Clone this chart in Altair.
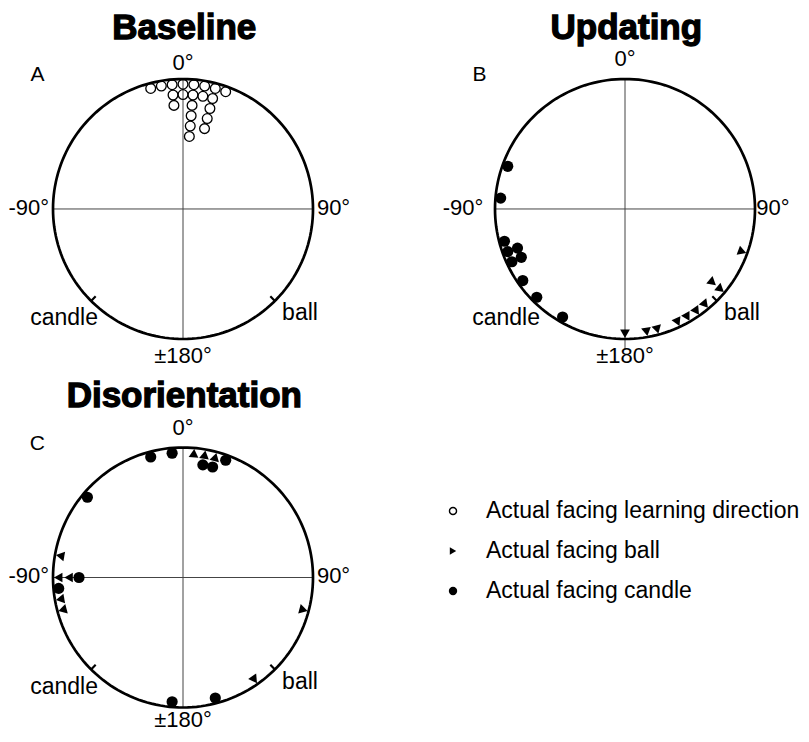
import altair as alt
import pandas as pd

# ---------------- data (angles in degrees, clockwise from 0° = top) ----------------
baseline_learning = [-15, -10, -5, -5, -5, 0, 0, 5, 5, 5, 5, 5, 5, 10, 10, 15, 15, 15, 15, 15, 20]
updating_candle = [-70, -85, -105, -110, -110, -115, -115, -125, -135, -150]
updating_ball = [110, 130, 130, 140, 145, 150, 155, 165, 170, 180]
disorient_candle = [-15, -5, 10, 15, 20, -50, -90, -95, -175, 165]
disorient_ball = [5, 10, 15, -80, -90, -90, -100, -105, 105, 145]

panel_titles = ["Baseline", "Updating", "Disorientation"]
panel_letters = ["A", "B", "C"]
direction_labels = ["0°", "90°", "±180°", "-90°"]
landmark_labels = ["candle", "ball"]
landmark_angles = [-135, 135]
legend_labels = ["Actual facing learning direction", "Actual facing ball", "Actual facing candle"]
legend_kinds = ["learning", "ball", "candle"]

rows = []
for pnl, kind, angs in [("A", "learning", baseline_learning),
                        ("B", "candle", updating_candle), ("B", "ball", updating_ball),
                        ("C", "candle", disorient_candle), ("C", "ball", disorient_ball)]:
    for a in angs:
        rows.append({"panel": pnl, "kind": kind, "angle": a, "korder": 1 if kind == "candle" else 0})
points = pd.DataFrame(rows)
landmarks = pd.DataFrame({"angle": landmark_angles, "label": landmark_labels})

FONT = "Liberation Sans"
U = 130
W = 350
XD = [-W / 2 / U, W / 2 / U]


def panel(p, title, letter, h, ytop, vbottom=-1.0, zero_y=1.14, bottom_y=-1.13,
          left_x=-1.03, right_x=1.03):
    ydom = [ytop - h / U, ytop]
    xs = alt.Scale(domain=XD, nice=False, zero=False)
    ys = alt.Scale(domain=ydom, nice=False, zero=False)

    def XF(f):
        return alt.X(f, scale=xs, axis=None)

    def YF(f):
        return alt.Y(f, scale=ys, axis=None)

    def XDt(v):
        return alt.XDatum(v, scale=xs, axis=None)

    def YDt(v):
        return alt.YDatum(v, scale=ys, axis=None)

    one = alt.Data(values=[{"k": 1}])

    circle = alt.Chart(alt.sequence(0, 362, 2, as_="t")).transform_calculate(
        cx="sin(datum.t*PI/180)"
    ).transform_calculate(
        cy="cos(datum.t*PI/180)"
    ).mark_line(color="black", strokeWidth=2.7).encode(
        x=XF("cx:Q"), y=YF("cy:Q"), order="t:Q")

    hline = alt.Chart(one).mark_rule(color="#444", strokeWidth=1).encode(
        x=XDt(-1), x2=alt.X2Datum(1), y=YDt(0))
    vline = alt.Chart(one).mark_rule(color="#444", strokeWidth=1).encode(
        x=XDt(0), y=YDt(1), y2=alt.Y2Datum(vbottom))

    ticks = alt.Chart(landmarks).transform_calculate(
        x1="0.95*sin(datum.angle*PI/180)", y1="0.95*cos(datum.angle*PI/180)",
        x2="sin(datum.angle*PI/180)", y2="cos(datum.angle*PI/180)"
    ).mark_rule(color="black", strokeWidth=2.2).encode(
        x=XF("x1:Q"), y=YF("y1:Q"), x2="x2:Q", y2="y2:Q")

    base = alt.Chart(points).transform_filter(alt.datum.panel == p).transform_window(
        rank="row_number()", groupby=["angle"], sort=[alt.SortField("korder")]
    ).transform_calculate(
        r="0.96 - 0.08*(datum.rank - 1)"
    ).transform_calculate(
        px="datum.r*sin(datum.angle*PI/180)"
    ).transform_calculate(
        py="datum.r*cos(datum.angle*PI/180)"
    ).transform_calculate(
        rot="(datum.angle + 360) % 360"
    )
    learn = base.transform_filter(alt.datum.kind == "learning").mark_point(
        shape="circle", filled=False, size=95, color="black", strokeWidth=1.3, opacity=1
    ).encode(x=XF("px:Q"), y=YF("py:Q"))
    ball = base.transform_filter(alt.datum.kind == "ball").mark_point(
        shape="triangle-up", filled=True, size=95, color="black", opacity=1
    ).encode(x=XF("px:Q"), y=YF("py:Q"), angle=alt.Angle("rot:Q", scale=None))
    candle = base.transform_filter(alt.datum.kind == "candle").mark_circle(
        size=125, color="black", opacity=1
    ).encode(x=XF("px:Q"), y=YF("py:Q"))

    def txt(label, x, y, size, align="center", baseline="middle", weight="normal", stroke=None):
        kw = {}
        if stroke:
            kw = {"stroke": "black", "strokeWidth": stroke}
        return alt.Chart(one).mark_text(
            text=label, font=FONT, fontSize=size, align=align, baseline=baseline,
            fontWeight=weight, color="black", **kw
        ).encode(x=XDt(x), y=YDt(y))

    texts = [
        txt(title, 0.01, 1.31, 35, baseline="alphabetic", weight="bold", stroke=1.3),
        txt(letter, -1.12, 1.03, 21),
        txt(direction_labels[0], 0, zero_y, 22),
        txt(direction_labels[1], right_x, 0.01, 22, align="left"),
        txt(direction_labels[2], 0, bottom_y, 22),
        txt(direction_labels[3], left_x, 0.01, 22, align="right"),
        txt(landmark_labels[0], -0.915, -0.84, 23),
        txt(landmark_labels[1], 0.9, -0.80, 23),
    ]
    return alt.layer(hline, vline, circle, ticks, learn, ball, candle, *texts).properties(
        width=W, height=h)


H1 = 363
H2 = 350
pA = panel("A", panel_titles[0], panel_letters[0], H1, 1.546, zero_y=1.12)
pB = panel("B", panel_titles[1], panel_letters[1], H1, 1.546, vbottom=-1.08, zero_y=1.155,
           left_x=-1.09, right_x=1.01)
pC = panel("C", panel_titles[2], panel_letters[2], H2, 1.55, zero_y=1.15, bottom_y=-1.095)

# ---------------- legend ----------------
leg = pd.DataFrame({"label": legend_labels, "kind": legend_kinds})
ly = alt.Y("label:N", scale=alt.Scale(type="point", domain=legend_labels, range=[135, 215], padding=0),
           axis=None)
lbase = alt.Chart(leg)
LX = 3
TX = 36
leg_learn = lbase.transform_filter(alt.datum.kind == "learning").mark_point(
    shape="circle", filled=False, size=50, color="black", strokeWidth=1.4, opacity=1
).encode(x=alt.value(LX), y=ly)
leg_ball = lbase.transform_filter(alt.datum.kind == "ball").mark_point(
    shape="triangle-right", filled=True, size=55, color="black", opacity=1
).encode(x=alt.value(LX), y=ly)
leg_candle = lbase.transform_filter(alt.datum.kind == "candle").mark_circle(
    size=70, color="black", opacity=1
).encode(x=alt.value(LX), y=ly)
leg_text = lbase.mark_text(align="left", baseline="middle", font=FONT, fontSize=23, color="black").encode(
    x=alt.value(TX), y=ly, text="label:N")
legend = alt.layer(leg_learn, leg_ball, leg_candle, leg_text).properties(width=W, height=H2)

chart = alt.concat(pA, pB, pC, legend, columns=2, spacing={"row": 5, "column": 92},
                   bounds="flush").properties(
    padding=0
).configure_view(stroke=None)

chart.save("out.html", embed_options={"renderer": "svg", "actions": False})
